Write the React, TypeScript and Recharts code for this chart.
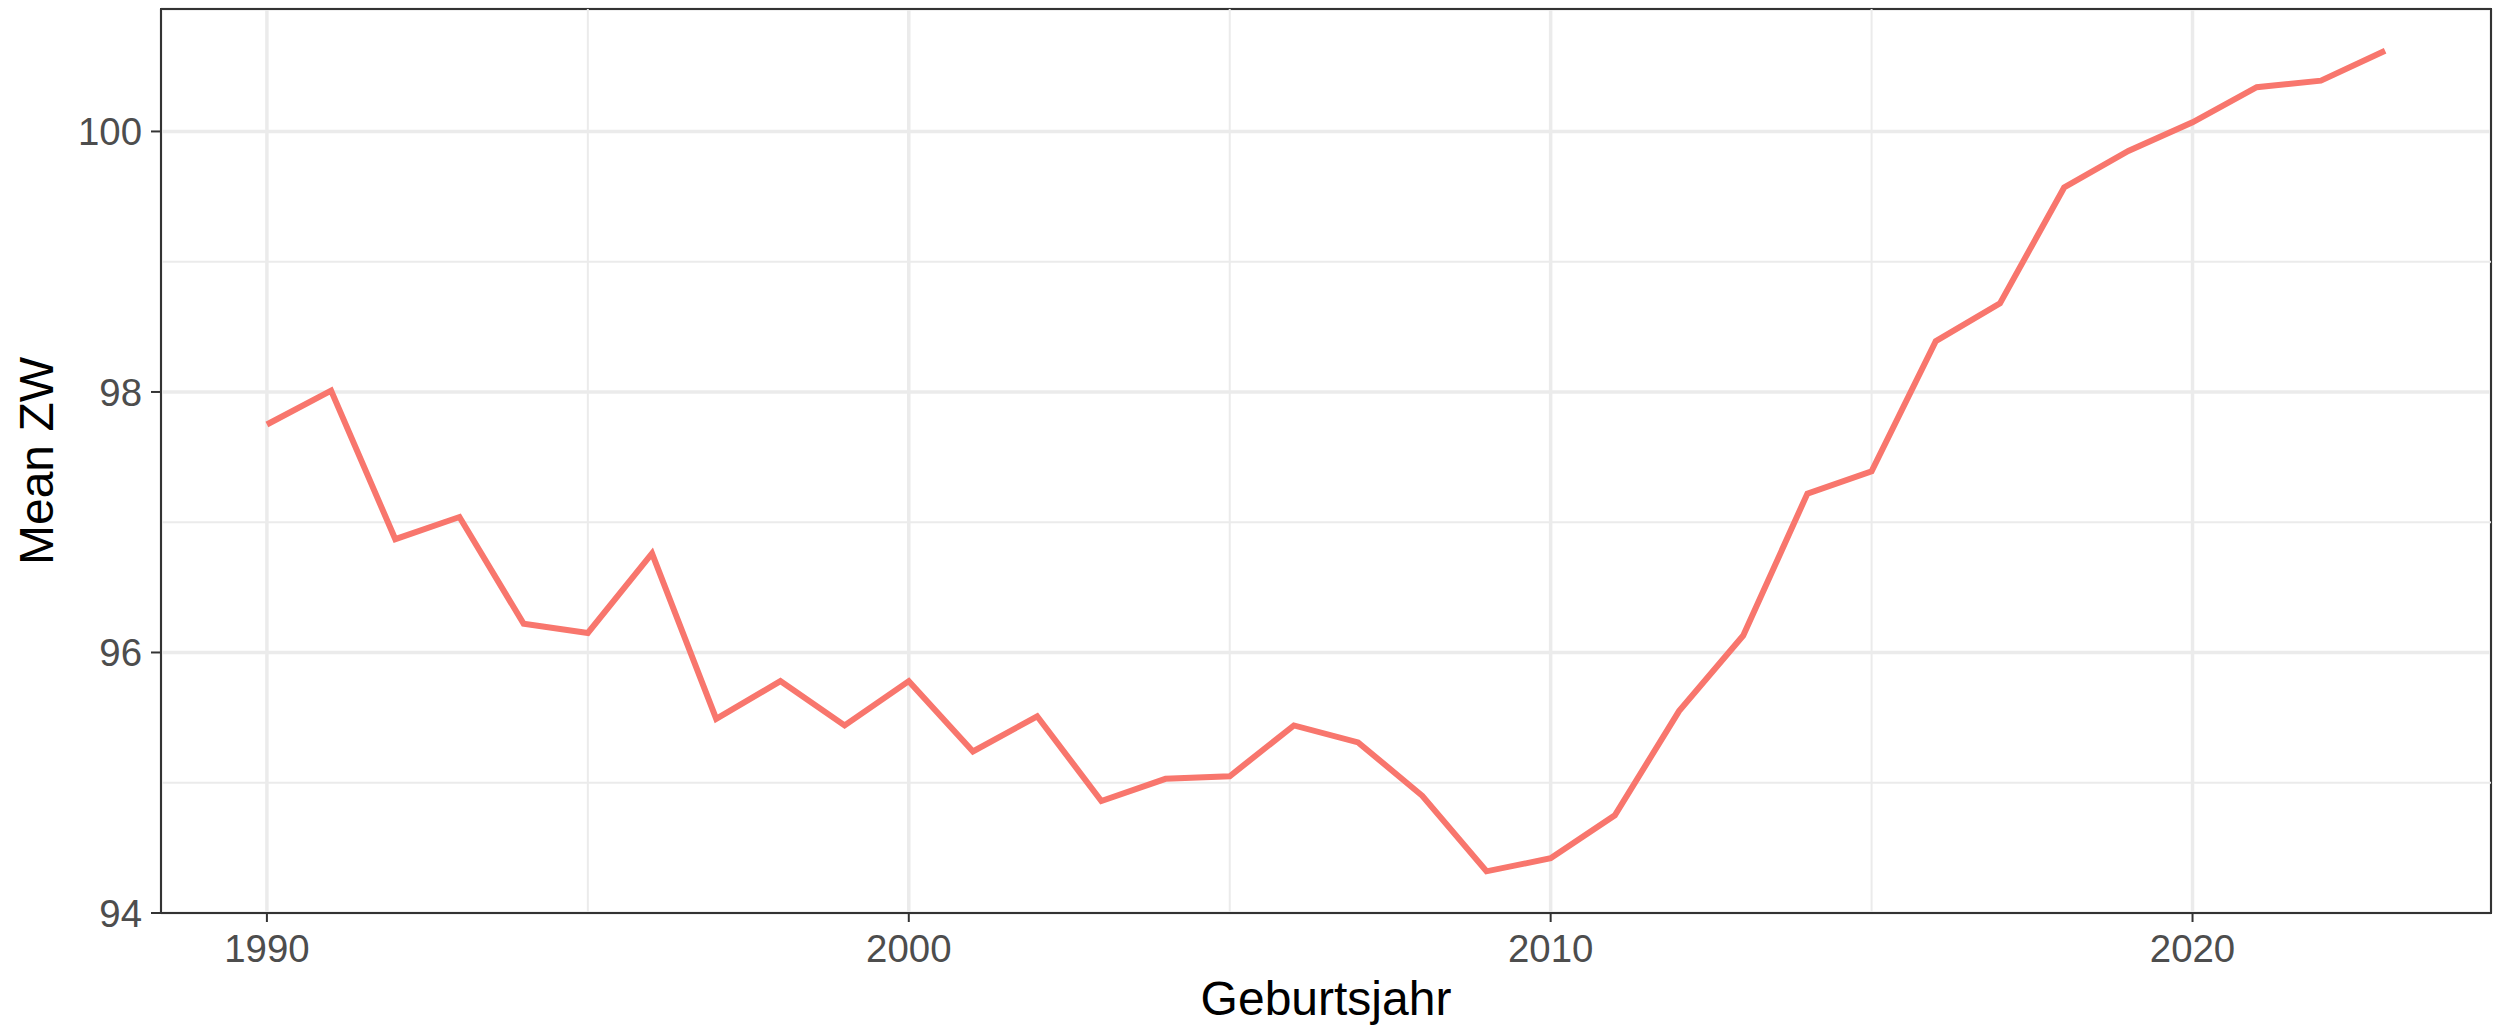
import { LineChart, Line, XAxis, YAxis, CartesianGrid, ReferenceLine, ReferenceArea } from "recharts";

const years = [
  1990, 1991, 1992, 1993, 1994, 1995, 1996, 1997, 1998, 1999, 2000, 2001,
  2002, 2003, 2004, 2005, 2006, 2007, 2008, 2009, 2010, 2011, 2012, 2013,
  2014, 2015, 2016, 2017, 2018, 2019, 2020, 2021, 2022, 2023,
];
const meanZW = [
  97.75, 98.01, 96.87, 97.04, 96.22, 96.15, 96.76, 95.49, 95.78, 95.44, 95.78, 95.24,
  95.51, 94.86, 95.03, 95.05, 95.44, 95.31, 94.9, 94.32, 94.42, 94.75, 95.55, 96.13,
  97.22, 97.39, 98.39, 98.68, 99.57, 99.85, 100.07, 100.34, 100.39, 100.62,
];
const xTicks = [1990, 2000, 2010, 2020];
const xMinor = [1995, 2005, 2015];
const yTicks = [94, 96, 98, 100];
const yMinor = [95, 97, 99];

const data = years.map((y, i) => ({ year: y, value: meanZW[i] }));

const font = "'Liberation Sans', Arial, Helvetica, sans-serif";
const xDomain = [1988.35, 2024.65];
const yDomain = [94.0, 100.94];

export default function App() {
  return (
    <div style={{ position: "absolute", left: 0, top: 0, width: 2501, height: 1029, background: "#fff" }}>
      <LineChart width={2501} height={1029} data={data} margin={{ top: 9, right: 10, left: 0, bottom: 0 }}>
        <CartesianGrid stroke="#EBEBEB" strokeWidth={3.5} />
        {xMinor.map((v) => (
          <ReferenceLine key={"x" + v} x={v} stroke="#EBEBEB" strokeWidth={2} />
        ))}
        {yMinor.map((v) => (
          <ReferenceLine key={"y" + v} y={v} stroke="#EBEBEB" strokeWidth={2} />
        ))}
        <XAxis
          dataKey="year"
          type="number"
          domain={xDomain}
          ticks={xTicks}
          interval={0}
          allowDataOverflow
          height={116}
          tickSize={9}
          tickMargin={13}
          axisLine={{ stroke: "#333333", strokeWidth: 2 }}
          tickLine={{ stroke: "#333333", strokeWidth: 2 }}
          tick={{ fill: "#4D4D4D", fontSize: 38.4, fontFamily: font }}
          label={{ value: "Geburtsjahr", position: "insideBottom", offset: 14, fill: "#000", fontSize: 48, fontFamily: font }}
        />
        <YAxis
          type="number"
          domain={yDomain}
          ticks={yTicks}
          interval={0}
          allowDataOverflow
          width={161}
          tickSize={10}
          tickMargin={9}
          axisLine={{ stroke: "#333333", strokeWidth: 2 }}
          tickLine={{ stroke: "#333333", strokeWidth: 2 }}
          tick={{ fill: "#4D4D4D", fontSize: 38.4, fontFamily: font }}
          label={{
            value: "Mean ZW",
            content: (props: any) => {
              const vb = props.viewBox || { y: 9, height: 904 };
              const cy = vb.y + vb.height / 2;
              return (
                <text
                  x={36}
                  y={cy}
                  transform={`rotate(-90, 36, ${cy})`}
                  textAnchor="middle"
                  dy="0.355em"
                  fill="#000"
                  fontSize={48}
                  fontFamily={font}
                >
                  Mean ZW
                </text>
              );
            },
          }}
        />
        <Line
          type="linear"
          dataKey="value"
          stroke="#F8766D"
          strokeWidth={6}
          dot={false}
          activeDot={false}
          isAnimationActive={false}
        />
        <ReferenceArea
          x1={xDomain[0]}
          x2={xDomain[1]}
          y1={yDomain[0]}
          y2={yDomain[1]}
          fill="none"
          stroke="#333333"
          strokeWidth={2}
        />
      </LineChart>
    </div>
  );
}
